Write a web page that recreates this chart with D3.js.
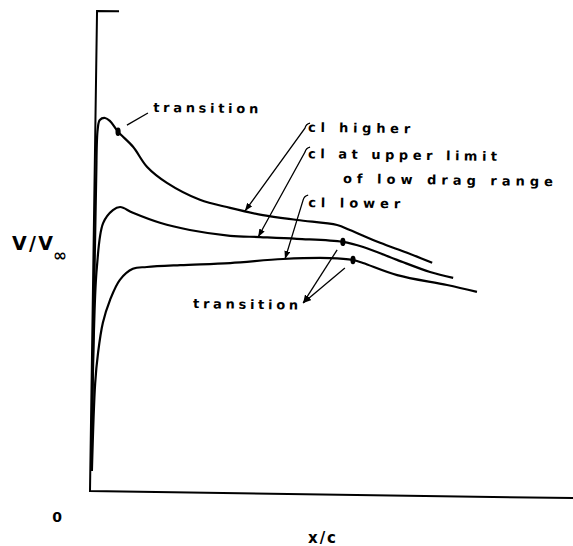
<!DOCTYPE html>
<html>
<head>
<meta charset="utf-8">
<script src="https://cdn.jsdelivr.net/npm/d3@7"></script>
<style>
  body { margin: 0; background: #fff; }
  text { font-family: "DejaVu Sans", sans-serif; font-weight: bold; fill: #000; }
</style>
</head>
<body>
<div id="chart"></div>
<script>
const width = 573;
const height = 546;

// velocity distributions V/V∞ along x/c
const upperXc = [0.002, 0.003, 0.004, 0.006, 0.011, 0.024, 0.036, 0.057, 0.095, 0.131, 0.181, 0.264, 0.340, 0.422, 0.508, 0.608, 0.640, 0.716, 0.784, 0.847];
const upperV  = [0.06, 0.48, 0.78, 0.905, 0.928, 0.933, 0.926, 0.899, 0.862, 0.812, 0.773, 0.732, 0.713, 0.696, 0.685, 0.674, 0.662, 0.631, 0.607, 0.583];

const midXc = [0.003, 0.004, 0.009, 0.023, 0.047, 0.065, 0.097, 0.165, 0.240, 0.341, 0.416, 0.508, 0.623, 0.674, 0.759, 0.842, 0.900];
const midV  = [0.06, 0.40, 0.560, 0.670, 0.703, 0.711, 0.697, 0.673, 0.656, 0.643, 0.641, 0.638, 0.632, 0.620, 0.589, 0.560, 0.546];

const lowerXc = [0.004, 0.009, 0.015, 0.026, 0.043, 0.067, 0.099, 0.134, 0.217, 0.342, 0.474, 0.591, 0.649, 0.674, 0.760, 0.885, 0.960];
const lowerV  = [0.05, 0.270, 0.345, 0.421, 0.478, 0.529, 0.557, 0.562, 0.568, 0.575, 0.587, 0.591, 0.587, 0.580, 0.551, 0.528, 0.512];

// transition points (upper, middle, lower curve)
const transitionXc = [0.057, 0.623, 0.649];
const transitionV  = [0.899, 0.632, 0.587];

const curveNames = ["cl higher", "cl at upper limit", "cl lower"];

const x = d3.scaleLinear().domain([0, 1]).range([90, 490]);
const y = d3.scaleLinear().domain([0, 1.2]).range([491, 11]);

const svg = d3.select("#chart").append("svg")
    .attr("width", width)
    .attr("height", height);

svg.append("rect").attr("width", width).attr("height", height).attr("fill", "#fff");

const defs = svg.append("defs");
defs.append("marker")
    .attr("id", "arrow")
    .attr("viewBox", "0 0 8 6")
    .attr("refX", 8).attr("refY", 3)
    .attr("markerWidth", 8).attr("markerHeight", 6)
    .attr("markerUnits", "userSpaceOnUse")
    .attr("orient", "auto")
    .append("path").attr("d", "M0,0L8,3L0,6Z").attr("fill", "#000");

// the scanned page sits slightly rotated
const g = svg.append("g").attr("transform", "rotate(0.84,90,491)");

// axes: plain frame, no ticks
g.append("path")
    .attr("d", `M${x(0.055)},${y(1.2)}H${x(0)}V${y(0)}H${x(1.3)}`)
    .attr("fill", "none")
    .attr("stroke", "#000")
    .attr("stroke-width", 2);

const line = d3.line()
    .x(d => x(d[0]))
    .y(d => y(d[1]))
    .curve(d3.curveCatmullRom.alpha(0.5));

const series = [
    d3.zip(upperXc, upperV),
    d3.zip(midXc, midV),
    d3.zip(lowerXc, lowerV)
];

g.selectAll("path.curve")
    .data(series)
    .join("path")
    .attr("class", "curve")
    .attr("d", line)
    .attr("fill", "none")
    .attr("stroke", "#000")
    .attr("stroke-width", 2.2)
    .attr("stroke-linejoin", "round");

// transition marks
g.selectAll("ellipse")
    .data(d3.zip(transitionXc, transitionV))
    .join("ellipse")
    .attr("cx", d => x(d[0]))
    .attr("cy", d => y(d[1]))
    .attr("rx", 2.6)
    .attr("ry", 4.2)
    .attr("fill", "#000");

// value on a curve at a given x/c (linear between read points)
const at = (xs, vs, t) => {
    for (let i = 1; i < xs.length; i++) {
        if (xs[i] >= t && xs[i - 1] <= t) {
            const k = (t - xs[i - 1]) / (xs[i] - xs[i - 1]);
            return vs[i - 1] + k * (vs[i] - vs[i - 1]);
        }
    }
    return vs[vs.length - 1];
};

// leaders from the curve labels
const leaderFrom = [[0.524, 0.915], [0.525, 0.855], [0.522, 0.735]];
const leaderToXc = [0.377, 0.411, 0.479];
const curveArrays = [[upperXc, upperV], [midXc, midV], [lowerXc, lowerV]];

leaderFrom.forEach((p, i) => {
    const tx = leaderToXc[i];
    const tv = at(curveArrays[i][0], curveArrays[i][1], tx);
    const x0 = x(p[0]), y0 = y(p[1]);
    g.append("path")
        .attr("d", `M${x0 + 5},${y0 - 5}Q${x0 + 1},${y0 - 4} ${x0},${y0}L${x(tx)},${y(tv)}`)
        .attr("fill", "none")
        .attr("stroke", "#000")
        .attr("stroke-width", 1.3)
        .attr("marker-end", "url(#arrow)");
});

// top transition leader
g.append("line")
    .attr("x1", x(0.079)).attr("y1", y(0.916))
    .attr("x2", x(0.131)).attr("y2", y(0.947))
    .attr("stroke", "#000").attr("stroke-width", 1.3);

// lower transition leaders, meeting at the label
const apex = [0.526, 0.478];
[[0.609, 0.612], [0.629, 0.567]].forEach(p => {
    g.append("line")
        .attr("x1", x(p[0])).attr("y1", y(p[1]))
        .attr("x2", x(apex[0])).attr("y2", y(apex[1]))
        .attr("stroke", "#000").attr("stroke-width", 1.3)
        .attr("marker-end", "url(#arrow)");
});

// annotations
const notes = [
    { t: "transition", xc: 0.144, v: 0.950, w: 105 },
    { t: curveNames[0], xc: 0.532, v: 0.906, w: 102 },
    { t: curveNames[1], xc: 0.533, v: 0.840, w: 189 },
    { t: "of low drag range", xc: 0.621, v: 0.779, w: 210 },
    { t: curveNames[2], xc: 0.535, v: 0.718, w: 92 },
    { t: "transition", xc: 0.251, v: 0.461, w: 105 }
];

g.selectAll("text.note")
    .data(notes)
    .join("text")
    .attr("class", "note")
    .attr("x", d => x(d.xc))
    .attr("y", d => y(d.v))
    .attr("font-size", 13)
    .attr("textLength", d => d.w)
    .attr("lengthAdjust", "spacing")
    .text(d => d.t);

// axis labels
svg.append("text")
    .attr("x", 12).attr("y", 250)
    .attr("font-size", 19)
    .attr("textLength", 41)
    .attr("lengthAdjust", "spacing")
    .text("V/V");
svg.append("text")
    .attr("x", 53).attr("y", 261)
    .attr("font-size", 17)
    .text("∞");

svg.append("text")
    .attr("x", 57).attr("y", 522)
    .attr("text-anchor", "middle")
    .attr("font-size", 14)
    .text("0");

svg.append("text")
    .attr("x", 323).attr("y", 543)
    .attr("text-anchor", "middle")
    .attr("font-size", 15)
    .attr("letter-spacing", 2)
    .text("x/c");
</script>
</body>
</html>
